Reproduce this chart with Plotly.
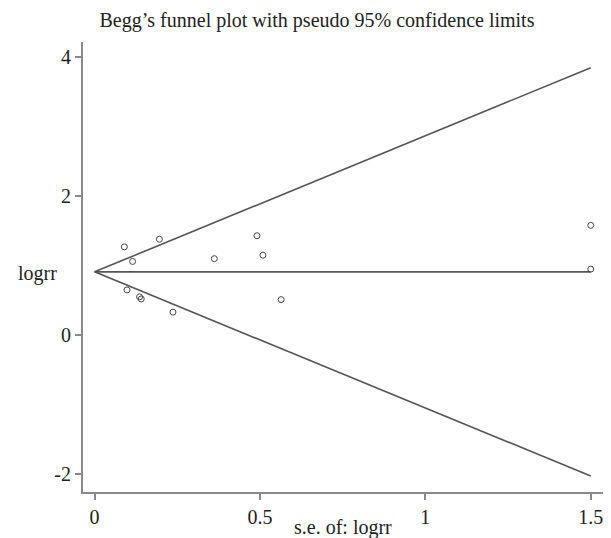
import plotly.graph_objects as go

# Study data: standard error and log risk ratio
se = [0.090, 0.196, 0.115, 0.362, 0.491, 0.509, 0.098, 0.136, 0.141, 0.237, 0.564, 1.50, 1.50]
logrr = [1.27, 1.38, 1.06, 1.10, 1.43, 1.15, 0.65, 0.55, 0.52, 0.33, 0.51, 1.58, 0.95]
pooled = 0.91
se_max = 1.5
x_ticks = [0, 0.5, 1, 1.5]
x_ticklabels = ["0", "0.5", "1", "1.5"]
y_ticks = [-2, 0, 2, 4]
y_ticklabels = ["-2", "0", "2", "4"]

line_x = [0, se_max]
upper = [pooled, pooled + 1.96 * se_max]
lower = [pooled, pooled - 1.96 * se_max]
center = [pooled, pooled]

serif = "Liberation Serif, Times New Roman, serif"
line_col = "#555555"

fig = go.Figure()
for yy in (upper, center, lower):
    fig.add_trace(go.Scatter(x=line_x, y=yy, mode="lines",
                             line=dict(color=line_col, width=1.6),
                             hoverinfo="skip", showlegend=False))
fig.add_trace(go.Scatter(x=se, y=logrr, mode="markers",
                         marker=dict(symbol="circle-open", size=6,
                                     color="#444444", line=dict(width=1)),
                         showlegend=False))

fig.update_layout(
    width=611, height=538,
    margin=dict(l=83, r=8, t=42, b=46),
    paper_bgcolor="white", plot_bgcolor="white",
    font=dict(family=serif, size=20, color="#222222"),
    title=dict(text="Begg\u2019s funnel plot with pseudo 95% confidence limits",
               x=317 / 611, xanchor="center", xref="container",
               y=1 - 20 / 538, yanchor="middle", yref="container",
               font=dict(family=serif, size=20, color="#222222")),
    xaxis=dict(range=[-0.035, 1.537], tickvals=x_ticks, ticktext=x_ticklabels,
               showgrid=False, zeroline=False, showline=True,
               linecolor="#8a8a8a", linewidth=2, ticks="outside",
               ticklen=6, tickcolor="#8a8a8a", tickwidth=1.5,
               tickfont=dict(family=serif, size=20, color="#222222")),
    yaxis=dict(range=[-2.26, 4.22], tickvals=y_ticks, ticktext=y_ticklabels,
               showgrid=False, zeroline=False, showline=True,
               linecolor="#8a8a8a", linewidth=2, ticks="outside",
               ticklen=6, tickcolor="#8a8a8a", tickwidth=1.5,
               tickfont=dict(family=serif, size=20, color="#222222")),
    annotations=[
        dict(text="logrr", xref="paper", x=0, xshift=-46, xanchor="center",
             yref="y", y=0.88, yanchor="middle", showarrow=False,
             font=dict(family=serif, size=20, color="#222222")),
        dict(text="s.e. of: logrr", xref="paper", x=0.5, xanchor="center",
             yref="paper", y=0, yshift=-35, yanchor="middle", showarrow=False,
             font=dict(family=serif, size=20, color="#222222")),
    ],
)

fig.write_html("out.html")
